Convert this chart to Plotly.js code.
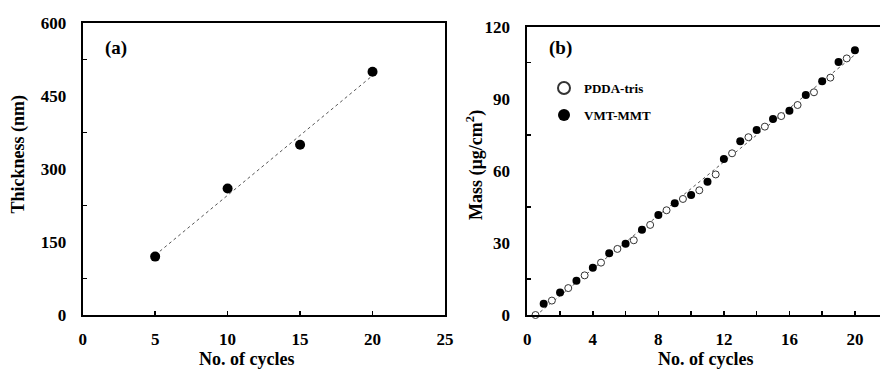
<!DOCTYPE html>
<html><head><meta charset="utf-8">
<script src="https://cdn.plot.ly/plotly-3.0.1.min.js"></script>
<style>html,body{margin:0;padding:0;background:#fff}#chart{width:880px;height:370px}</style>
</head><body><div id="chart"></div>
<script>
// Panel (a)
const cyclesA = [5, 10, 15, 20];
const thicknessA = [120, 260, 350, 500];
// Panel (b)
const cyclesPDDA = [0.5,1.5,2.5,3.5,4.5,5.5,6.5,7.5,8.5,9.5,10.5,11.5,12.5,13.5,14.5,15.5,16.5,17.5,18.5,19.5];
const massPDDA = [0,6.0,11.2,16.5,21.8,27.5,31.1,37.5,43.6,48.3,51.9,58.5,67.3,74.0,78.4,82.8,87.4,92.7,98.8,106.8];
const cyclesVMT = [1,2,3,4,5,6,7,8,9,10,11,12,13,14,15,16,17,18,19,20];
const massVMT = [4.7,9.4,14.3,19.7,25.7,29.7,35.5,41.6,46.5,49.9,55.5,64.9,72.3,77.0,81.6,85.0,91.6,97.3,105.3,110.2];
const legendNames = ['PDDA-tris', 'VMT-MMT'];
const titleX = 'No. of cycles';
const titleYA = 'Thickness (nm)';
const titleYB = 'Mass (µg/cm<sup>2</sup>)';

function fit(xs, ys) {
  const n = xs.length;
  const mx = xs.reduce((a,b)=>a+b,0)/n, my = ys.reduce((a,b)=>a+b,0)/n;
  let sxy = 0, sxx = 0;
  for (let i=0;i<n;i++){ sxy += (xs[i]-mx)*(ys[i]-my); sxx += (xs[i]-mx)**2; }
  const m = sxy/sxx, b = my - m*mx;
  const x0 = Math.min(...xs), x1 = Math.max(...xs);
  return {x:[x0,x1], y:[m*x0+b, m*x1+b]};
}
const fa = fit(cyclesA, thicknessA);
const allX = cyclesPDDA.concat(cyclesVMT), allY = massPDDA.concat(massVMT);
const fb = fit(allX, allY);

const FONT = 'Liberation Serif, Times New Roman, serif';
const tickF = {family: FONT, size: 17, color: '#000', weight: 'bold'};

const traces = [
  {x: fa.x, y: fa.y, mode: 'lines', line: {color: '#555', width: 1, dash: 'dot'}, showlegend: false, xaxis: 'x', yaxis: 'y', hoverinfo: 'skip'},
  {x: cyclesA, y: thicknessA, mode: 'markers', marker: {color: '#000', size: 10}, showlegend: false, xaxis: 'x', yaxis: 'y'},
  {x: fb.x, y: fb.y, mode: 'lines', line: {color: '#555', width: 1, dash: 'dot'}, showlegend: false, xaxis: 'x2', yaxis: 'y2', hoverinfo: 'skip'},
  {x: cyclesPDDA, y: massPDDA, name: legendNames[0], mode: 'markers', cliponaxis: false,
   marker: {color: '#fff', size: 7, line: {color: '#333', width: 1}}, xaxis: 'x2', yaxis: 'y2', legend: 'legend'},
  {x: cyclesVMT, y: massVMT, name: legendNames[1], mode: 'markers', cliponaxis: false,
   marker: {color: '#000', size: 8}, xaxis: 'x2', yaxis: 'y2', legend: 'legend2'}
];

const W = 880, H = 370;
const px = v => v / W, py = v => 1 - v / H;
const axisCommon = {showline: true, linecolor: '#000', linewidth: 2, showgrid: false, zeroline: false,
  tickfont: tickF, ticklen: 4, tickwidth: 1.5, tickcolor: '#000', fixedrange: true};

const layout = {
  width: W, height: H,
  margin: {l: 0, r: 0, t: 0, b: 0},
  paper_bgcolor: '#fff', plot_bgcolor: '#fff',
  font: {family: FONT, color: '#000'},
  xaxis: Object.assign({}, axisCommon, {domain: [px(82.7), px(445)], range: [0, 25], dtick: 5, tick0: 0,
    ticks: 'inside', mirror: true, anchor: 'y', ticklabelstandoff: 8}),
  yaxis: Object.assign({}, axisCommon, {domain: [py(315), py(23)], range: [0, 600], dtick: 150, tick0: 0,
    ticks: '', mirror: true, anchor: 'x', ticklabelstandoff: 11,
    minor: {tickmode: 'array', tickvals: [75, 225, 375, 525], ticks: 'inside', ticklen: 4, tickwidth: 1.5, tickcolor: '#000', showgrid: false}}),
  xaxis2: Object.assign({}, axisCommon, {domain: [px(527.3), 1], range: [0, 21.53], dtick: 4, tick0: 0,
    ticks: 'inside', mirror: true, anchor: 'y2', ticklabelstandoff: 8,
    minor: {dtick: 2, tick0: 0, ticks: 'inside', ticklen: 4, tickwidth: 1.5, tickcolor: '#000', showgrid: false}}),
  yaxis2: Object.assign({}, axisCommon, {domain: [py(315), py(26.7)], range: [0, 120], dtick: 30, tick0: 0,
    ticks: '', mirror: false, anchor: 'x2', ticklabelstandoff: 12,
    minor: {tickmode: 'array', tickvals: [15, 45, 75, 105], ticks: 'inside', ticklen: 4, tickwidth: 1.5, tickcolor: '#000', showgrid: false}}),
  legend: {x: px(544), y: py(88), xanchor: 'left', yanchor: 'middle', bgcolor: 'rgba(0,0,0,0)', borderwidth: 0,
    font: {family: FONT, size: 13, weight: 'bold', color: '#000'}, itemsizing: 'constant'},
  legend2: {x: px(544), y: py(115), xanchor: 'left', yanchor: 'middle', bgcolor: 'rgba(0,0,0,0)', borderwidth: 0,
    font: {family: FONT, size: 13, weight: 'bold', color: '#000'}, itemsizing: 'constant'},
  annotations: [
    {text: '(a)', xref: 'paper', yref: 'paper', x: px(103), y: py(48), xanchor: 'left', yanchor: 'middle', showarrow: false,
     font: {family: FONT, size: 19, weight: 'bold', color: '#000'}},
    {text: '(b)', xref: 'paper', yref: 'paper', x: px(547), y: py(48), xanchor: 'left', yanchor: 'middle', showarrow: false,
     font: {family: FONT, size: 19, weight: 'bold', color: '#000'}},
    {text: titleX, xref: 'paper', yref: 'paper', x: px(246), y: py(359), xanchor: 'center', yanchor: 'middle', showarrow: false,
     font: {family: FONT, size: 18, weight: 'bold', color: '#000'}},
    {text: titleX, xref: 'paper', yref: 'paper', x: px(705), y: py(359), xanchor: 'center', yanchor: 'middle', showarrow: false,
     font: {family: FONT, size: 18, weight: 'bold', color: '#000'}},
    {text: titleYA, xref: 'paper', yref: 'paper', x: px(18), y: py(154.5), xanchor: 'center', yanchor: 'middle', showarrow: false, textangle: -90,
     font: {family: FONT, size: 18, weight: 'bold', color: '#000'}},
    {text: titleYB, xref: 'paper', yref: 'paper', x: px(475), y: py(165), xanchor: 'center', yanchor: 'middle', showarrow: false, textangle: -90,
     font: {family: FONT, size: 18, weight: 'bold', color: '#000'}}
  ]
};

Plotly.newPlot('chart', traces, layout, {displayModeBar: false, staticPlot: true});
</script>
</body></html>
